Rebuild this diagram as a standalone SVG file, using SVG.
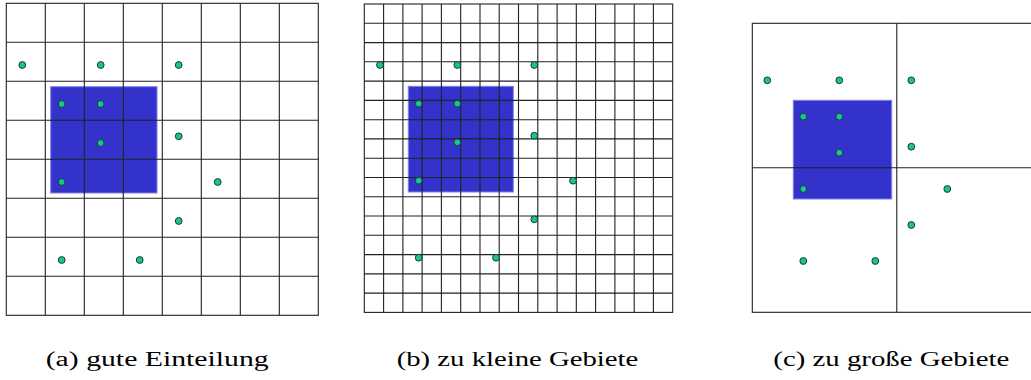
<svg xmlns="http://www.w3.org/2000/svg" width="1031" height="380" viewBox="0 0 1031 380">
<style>
.bg{fill:#fff}
.area{fill:#3333cc;stroke:#8080ee;stroke-width:1}
.grid{fill:none;stroke:#222;stroke-width:1.1}
.pt{fill:#17c495;stroke:#1d3a3a;stroke-width:1}
.cap{font-family:"Liberation Serif","DejaVu Serif",serif;font-size:20.5px;fill:#000}
</style>
<rect class="bg" x="0" y="0" width="1031" height="380"/>

<g id="panel-a">
  <rect class="area" x="50.7" y="86.7" width="106.3" height="106.3"/>
  <g class="grid">
    <rect x="6.3" y="3.3" width="312" height="312"/>
    <path d="M45.3 3.3V315.3M84.3 3.3V315.3M123.3 3.3V315.3M162.3 3.3V315.3M201.3 3.3V315.3M240.3 3.3V315.3M279.3 3.3V315.3
             M6.3 42.3H318.3M6.3 81.3H318.3M6.3 120.3H318.3M6.3 159.3H318.3M6.3 198.3H318.3M6.3 237.3H318.3M6.3 276.3H318.3"/>
  </g>
  <g>
    <circle class="pt" cx="22.3" cy="65" r="3.4"/>
    <circle class="pt" cx="100.7" cy="65" r="3.4"/>
    <circle class="pt" cx="178.7" cy="65" r="3.4"/>
    <circle class="pt" cx="61.7" cy="104" r="3.4"/>
    <circle class="pt" cx="100.7" cy="104" r="3.4"/>
    <circle class="pt" cx="100.7" cy="143" r="3.4"/>
    <circle class="pt" cx="178.7" cy="136.3" r="3.4"/>
    <circle class="pt" cx="61.7" cy="182" r="3.4"/>
    <circle class="pt" cx="217.7" cy="182" r="3.4"/>
    <circle class="pt" cx="178.7" cy="221" r="3.4"/>
    <circle class="pt" cx="61.7" cy="260" r="3.4"/>
    <circle class="pt" cx="139.7" cy="260" r="3.4"/>
  </g>
  <text class="cap" x="45.7" y="366" textLength="223" lengthAdjust="spacingAndGlyphs">(a) gute Einteilung</text>
</g>

<g id="panel-b">
  <rect class="area" x="408.3" y="86.3" width="105" height="105.7"/>
  <g class="grid">
    <rect x="364.3" y="4" width="308.4" height="308.4"/>
    <path d="M383.6 4V312.4M402.9 4V312.4M422.1 4V312.4M441.4 4V312.4M460.7 4V312.4M480 4V312.4M499.2 4V312.4M518.5 4V312.4M537.8 4V312.4M557.1 4V312.4M576.3 4V312.4M595.6 4V312.4M614.9 4V312.4M634.2 4V312.4M653.4 4V312.4
             M364.3 23.3H672.7M364.3 42.6H672.7M364.3 61.8H672.7M364.3 81.1H672.7M364.3 100.4H672.7M364.3 119.7H672.7M364.3 138.9H672.7M364.3 158.2H672.7M364.3 177.5H672.7M364.3 196.8H672.7M364.3 216H672.7M364.3 235.3H672.7M364.3 254.6H672.7M364.3 273.9H672.7M364.3 293.1H672.7"/>
  </g>
  <g>
    <circle class="pt" cx="380" cy="65" r="3.4"/>
    <circle class="pt" cx="457.3" cy="65" r="3.4"/>
    <circle class="pt" cx="534.3" cy="65" r="3.4"/>
    <circle class="pt" cx="418.7" cy="103.7" r="3.4"/>
    <circle class="pt" cx="457.3" cy="103.7" r="3.4"/>
    <circle class="pt" cx="457.3" cy="142.3" r="3.4"/>
    <circle class="pt" cx="534.3" cy="135.7" r="3.4"/>
    <circle class="pt" cx="418.7" cy="180.7" r="3.4"/>
    <circle class="pt" cx="573" cy="180.7" r="3.4"/>
    <circle class="pt" cx="534.3" cy="219.3" r="3.4"/>
    <circle class="pt" cx="418.7" cy="257.7" r="3.4"/>
    <circle class="pt" cx="496" cy="257.7" r="3.4"/>
  </g>
  <text class="cap" x="396.7" y="366" textLength="241.6" lengthAdjust="spacingAndGlyphs">(b) zu kleine Gebiete</text>
</g>

<g id="panel-c">
  <rect class="area" x="793.3" y="100.3" width="98.4" height="98.7"/>
  <g class="grid">
    <rect x="752.3" y="23.3" width="289" height="289"/>
    <path d="M896.8 23.3V312.3M752.3 167.8H1041.3"/>
  </g>
  <g>
    <circle class="pt" cx="767.3" cy="80.3" r="3.4"/>
    <circle class="pt" cx="839.3" cy="80.3" r="3.4"/>
    <circle class="pt" cx="911.3" cy="80.3" r="3.4"/>
    <circle class="pt" cx="803.3" cy="116.7" r="3.4"/>
    <circle class="pt" cx="839.3" cy="116.7" r="3.4"/>
    <circle class="pt" cx="839.3" cy="152.7" r="3.4"/>
    <circle class="pt" cx="911.3" cy="146.7" r="3.4"/>
    <circle class="pt" cx="803.3" cy="189" r="3.4"/>
    <circle class="pt" cx="947.3" cy="189" r="3.4"/>
    <circle class="pt" cx="911.3" cy="225" r="3.4"/>
    <circle class="pt" cx="803.3" cy="261" r="3.4"/>
    <circle class="pt" cx="875.3" cy="261" r="3.4"/>
  </g>
  <text class="cap" x="773.3" y="366" textLength="236" lengthAdjust="spacingAndGlyphs">(c) zu große Gebiete</text>
</g>
</svg>
